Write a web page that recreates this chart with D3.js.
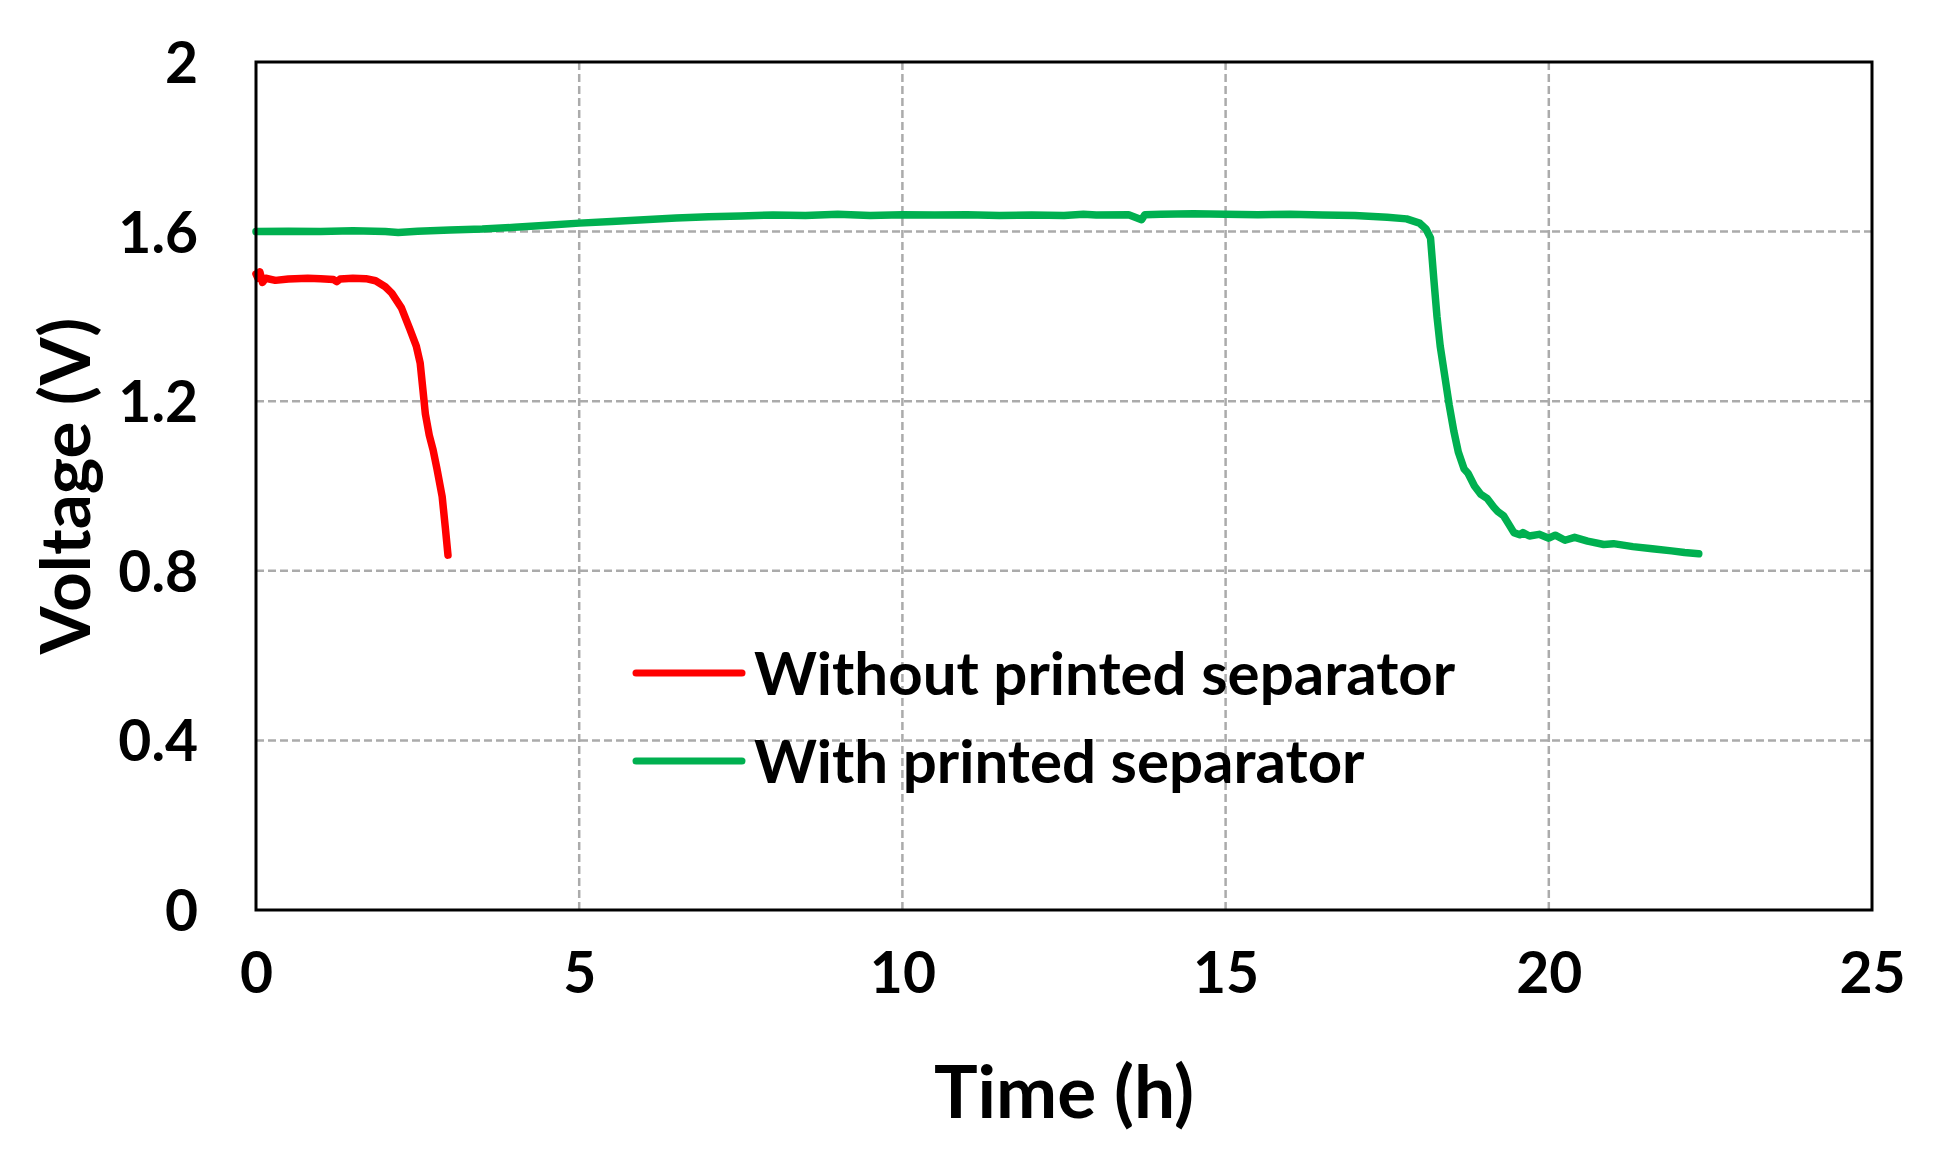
<!DOCTYPE html>
<html>
<head>
<meta charset="utf-8">
<script src="https://cdn.jsdelivr.net/npm/d3@7"></script>
<style>
  body { margin: 0; background: #fff; }
  text { font-family: Lato, "Open Sans", sans-serif; font-weight: 700; fill: #000; }
</style>
</head>
<body>
<div id="plot"></div>
<script>
// Data (time in hours, voltage in volts)
const redTime = [0, 0.03, 0.06, 0.1, 0.15, 0.3, 0.5, 0.8, 1.0, 1.2, 1.25, 1.3, 1.5, 1.7, 1.85, 2.0, 2.1, 2.25, 2.38, 2.48, 2.54, 2.58, 2.62, 2.68, 2.74, 2.8, 2.88, 2.93, 2.97];
const redVolt = [1.50, 1.49, 1.505, 1.48, 1.49, 1.485, 1.488, 1.49, 1.489, 1.487, 1.482, 1.488, 1.49, 1.489, 1.484, 1.47, 1.455, 1.42, 1.37, 1.33, 1.29, 1.23, 1.17, 1.12, 1.085, 1.04, 0.975, 0.9, 0.837];

const greenTime = [0, 0.5, 1.0, 1.5, 2.0, 2.2, 2.5, 3.0, 3.5, 4.0, 4.5, 5.0, 5.5, 6.0, 6.5, 7.0, 7.5, 8.0, 8.5, 9.0, 9.5, 10.0, 10.5, 11.0, 11.5, 12.0, 12.5, 12.8, 13.0, 13.5, 13.7, 13.75, 14.0, 14.5, 15.0, 15.5, 16.0, 16.5, 17.0, 17.5, 17.8, 18.0, 18.1, 18.17, 18.22, 18.27, 18.32, 18.4, 18.46, 18.53, 18.6, 18.69, 18.75, 18.85, 18.95, 19.05, 19.15, 19.21, 19.3, 19.38, 19.46, 19.55, 19.6, 19.7, 19.85, 20.0, 20.1, 20.25, 20.4, 20.6, 20.85, 21.0, 21.3, 21.6, 21.9, 22.1, 22.32];
const greenVolt = [1.60, 1.601, 1.60, 1.602, 1.60, 1.598, 1.601, 1.604, 1.606, 1.61, 1.615, 1.62, 1.624, 1.628, 1.632, 1.635, 1.637, 1.639, 1.638, 1.641, 1.638, 1.64, 1.639, 1.64, 1.638, 1.639, 1.638, 1.641, 1.639, 1.64, 1.628, 1.64, 1.641, 1.642, 1.641, 1.64, 1.641, 1.639, 1.638, 1.634, 1.63, 1.62, 1.606, 1.585, 1.49, 1.40, 1.33, 1.25, 1.19, 1.13, 1.08, 1.04, 1.03, 1.0, 0.98, 0.97, 0.95, 0.94, 0.93, 0.91, 0.89, 0.885, 0.89, 0.882, 0.886, 0.877, 0.884, 0.872, 0.879, 0.87, 0.862, 0.864, 0.857, 0.852, 0.847, 0.843, 0.84];

const xTicks = [0, 5, 10, 15, 20, 25];
const yTicks = [0, 0.4, 0.8, 1.2, 1.6, 2];
const seriesNames = ["Without printed separator", "With printed separator"];
const seriesColors = ["#ff0000", "#00b050"];

// Set the dimensions and margins
const margin = {top: 62, right: 66, bottom: 256, left: 256};
const width = 1938 - margin.left - margin.right;
const height = 1166 - margin.top - margin.bottom;

const root = d3.select("#plot")
    .append("svg")
    .attr("width", 1938)
    .attr("height", 1166);

root.append("rect")
    .attr("width", 1938)
    .attr("height", 1166)
    .attr("fill", "#fff");

const svg = root.append("g")
    .attr("transform", `translate(${margin.left},${margin.top})`);

// Scales
const x = d3.scaleLinear().domain([0, 25]).range([0, width]);
const y = d3.scaleLinear().domain([0, 2]).range([height, 0]);

// Dashed gridlines
svg.append("g")
    .selectAll("line")
    .data(xTicks.slice(1, -1))
    .join("line")
    .attr("x1", d => x(d)).attr("x2", d => x(d))
    .attr("y1", 0).attr("y2", height)
    .attr("stroke", "#ababab")
    .attr("stroke-width", 2.5)
    .attr("stroke-dasharray", "8,4");

svg.append("g")
    .selectAll("line")
    .data(yTicks.slice(1, -1))
    .join("line")
    .attr("x1", 0).attr("x2", width)
    .attr("y1", d => y(d)).attr("y2", d => y(d))
    .attr("stroke", "#ababab")
    .attr("stroke-width", 2.5)
    .attr("stroke-dasharray", "8,4");

// Axes (labels only, frame drawn separately)
const xAxis = svg.append("g")
    .attr("transform", `translate(0,${height})`)
    .call(d3.axisBottom(x).tickValues(xTicks).tickSize(0).tickPadding(83).tickFormat(d3.format("d")));
xAxis.select(".domain").remove();
xAxis.selectAll("text")
    .attr("dy", 0)
    .style("font-family", "Lato, sans-serif")
    .style("font-weight", 700)
    .style("font-size", "57px");

const yAxis = svg.append("g")
    .call(d3.axisLeft(y).tickValues(yTicks).tickSize(0).tickPadding(58).tickFormat(d => d === 0 || d === 2 ? d : d.toFixed(1)));
yAxis.select(".domain").remove();
yAxis.selectAll("text")
    .attr("dy", "0.36em")
    .style("font-family", "Lato, sans-serif")
    .style("font-weight", 700)
    .style("font-size", "57px");

// Lines
const line = d3.line()
    .x(d => x(d[0]))
    .y(d => y(d[1]));

const series = [
    d3.zip(redTime, redVolt),
    d3.zip(greenTime, greenVolt)
];

svg.append("g")
    .selectAll("path")
    .data(series)
    .join("path")
    .attr("d", line)
    .attr("fill", "none")
    .attr("stroke", (d, i) => seriesColors[i])
    .attr("stroke-width", 7.5)
    .attr("stroke-linejoin", "round")
    .attr("stroke-linecap", "round");

// Plot frame
svg.append("rect")
    .attr("width", width)
    .attr("height", height)
    .attr("fill", "none")
    .attr("stroke", "#000")
    .attr("stroke-width", 3);

// Legend
const legend = root.append("g")
    .attr("transform", "translate(636,673)");

const item = legend.selectAll("g")
    .data(seriesNames)
    .join("g")
    .attr("transform", (d, i) => `translate(0,${i * 88})`);

item.append("line")
    .attr("x1", 0).attr("x2", 106)
    .attr("stroke", (d, i) => seriesColors[i])
    .attr("stroke-width", 7)
    .attr("stroke-linecap", "round");

item.append("text")
    .attr("x", 118)
    .attr("dy", "0.36em")
    .style("font-size", "60px")
    .text(d => d);

// Axis titles
root.append("text")
    .attr("x", margin.left + width / 2)
    .attr("y", 1118)
    .attr("text-anchor", "middle")
    .style("font-size", "73px")
    .text("Time (h)");

root.append("text")
    .attr("transform", `translate(90,${margin.top + height / 2}) rotate(-90)`)
    .attr("text-anchor", "middle")
    .style("font-size", "69px")
    .text("Voltage (V)");
</script>
</body>
</html>
